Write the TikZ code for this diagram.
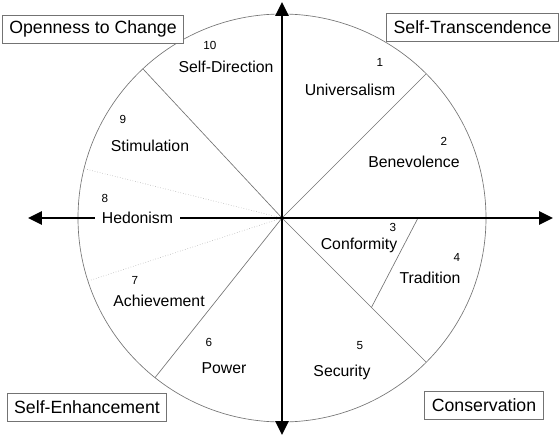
\documentclass[tikz,border=0pt]{standalone}
\usepackage{fontspec}
\setmainfont{Liberation Sans}
\usetikzlibrary{arrows.meta,calc}

\begin{document}
\begin{tikzpicture}[
		x=1pt, y=1pt,
		every node/.style={align=center},
		rim/.style={draw=black!55, line width=0.65pt},
		divider/.style={draw=black!55, line width=0.65pt},
		softdiv/.style={draw=black!30, line width=0.6pt, dotted},
		axis/.style={line width=2.8pt, {Triangle[length=14pt,width=13pt]}-{Triangle[length=14pt,width=13pt]}},
		value/.style={font=\fontsize{15.8}{18}\selectfont, inner sep=1pt},
		num/.style={font=\fontsize{11.7}{14}\selectfont, inner sep=1pt},
		dimbox/.style={draw=black!55, line width=0.8pt, fill=white, inner xsep=7pt, minimum height=28pt, font=\fontsize{17.7}{20}\selectfont}
		]
		\useasboundingbox (-282,-221) rectangle (277,218);
		
		% Circle and sector borders
		\coordinate (O) at (0,0);
		\draw[rim] (O) circle (204);
		\coordinate (r1) at (45:204);
		\coordinate (r2) at (133:204);
		\coordinate (r3) at (166:204);
		\coordinate (r4) at (198:204);
		\coordinate (r5) at (231.5:204);
		\coordinate (r6) at (-45:204);
		\draw[divider] (O) -- (r1);
		\draw[divider] (O) -- (r2);
		\draw[softdiv] (O) -- (r3);
		\draw[softdiv] (O) -- (r4);
		\draw[divider] (O) -- (r5);
		\draw[divider] (O) -- (r6);
		\coordinate (ct) at ($(O)!0.62!(r6)$);
		\coordinate (ctop) at (136,0);
		\draw[divider] (ct) -- (ctop);
		
		% Axes
		\coordinate (top) at (0,216);
		\coordinate (bot) at (0,-217);
		\coordinate (lft) at (-254,0);
		\coordinate (rgt) at (271,0);
		\draw[axis] (bot) -- (top);
		\draw[axis] (lft) -- (rgt);
		
		% Values
		\node[num] (n1) at (98,156) {1};
		\node[value] (v1) at (68,128) {Universalism};
		\node[num] (n2) at (162,77) {2};
		\node[value] (v2) at (132,56) {Benevolence};
		\node[num] (n3) at (111,-9) {3};
		\node[value] (v3) at (77,-27) {Conformity};
		\node[num] (n4) at (175,-39) {4};
		\node[value] (v4) at (148,-60) {Tradition};
		\node[num] (n5) at (78,-128) {5};
		\node[value] (v5) at (60,-154) {Security};
		\node[num] (n6) at (-73,-124) {6};
		\node[value] (v6) at (-58,-150) {Power};
		\node[num] (n7) at (-147,-62) {7};
		\node[value] (v7) at (-123,-83) {Achievement};
		\node[num] (n8) at (-177,20) {8};
		\node[value, fill=white, inner xsep=7pt] (v8) at (-144.5,0) {Hedonism};
		\node[num] (n9) at (-159,99) {9};
		\node[value] (v9) at (-132,72) {Stimulation};
		\node[num] (n10) at (-72,173) {10};
		\node[value] (v10) at (-56,151) {Self-Direction};
		
		% Higher order dimensions
		\node[dimbox] (open) at (-189,189) {Openness to Change};
		\node[dimbox] (trans) at (190.5,191) {Self-Transcendence};
		\node[dimbox] (enh) at (-195,-189.5) {Self-Enhancement};
		\node[dimbox] (cons) at (202,-187) {Conservation};
		
	\end{tikzpicture}
\end{document}
